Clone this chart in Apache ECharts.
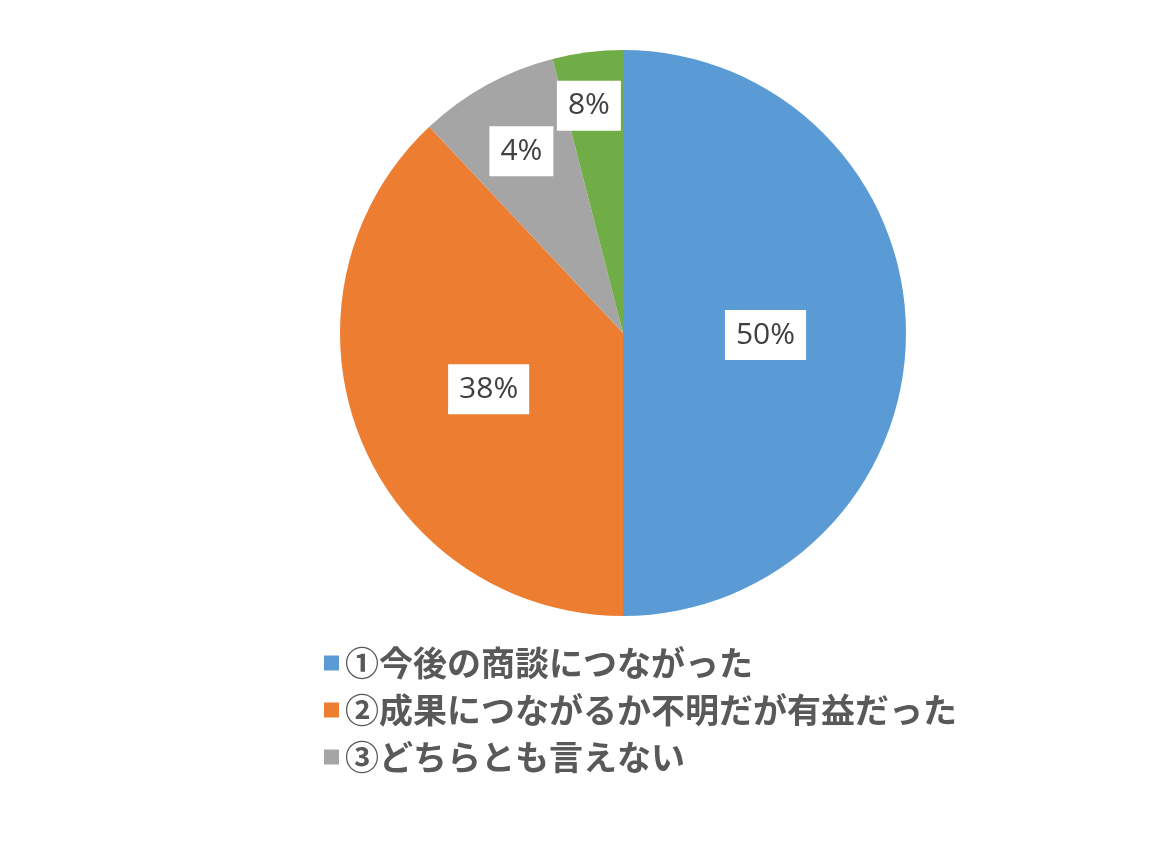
<!DOCTYPE html>
<html>
<head>
<meta charset="utf-8">
<title>pie</title>
<script src="https://cdn.jsdelivr.net/npm/echarts@6/dist/echarts.min.js"></script>
<style>
	html, body {margin: 0; padding: 0; background: #fff;}
	#chart {width: 1176px; height: 844px;}
</style>
</head>
<body>
<div id="chart"></div>
<script>
// data
var names = ['①今後の商談につながった', '②成果につながるか不明だが有益だった', '③どちらとも言えない', '④その他'];
var values = [50, 38, 8, 4];
// the labels as printed on the original (gray and green are swapped there)
var labelTexts = ['50%', '38%', '4%', '8%'];
var colors = ['#5B9BD5', '#ED7D31', '#A5A5A5', '#70AD47'];

var myChart = echarts.init(document.getElementById('chart'));

// label nudges for the small slices (Excel places them further out)
var labelOffsets = [[-2, 2], [0, 3], [-32, -55], [-16, -84]];

var pieData = [];
names.forEach(function(name, i){
	pieData.push({
		name: name,
		value: values[i],
		itemStyle: {color: colors[i]},
		label: {offset: labelOffsets[i]}
	});
});

var option = {
	animation: false,
	legend: {
		orient: 'vertical',
		left: 319,
		top: 641,
		itemWidth: 15,
		itemHeight: 15,
		itemGap: 13,
		icon: 'rect',
		data: names.slice(0, 3),
		textStyle: {
			fontFamily: 'Noto Sans CJK JP',
			fontSize: 34,
			fontWeight: 'bold',
			color: '#595959',
			padding: [0, 0, 0, 1]
		}
	},
	series: [{
		type: 'pie',
		center: [623, 333],
		radius: 283,
		startAngle: 90,
		clockwise: true,
		silent: true,
		itemStyle: {borderWidth: 0},
		label: {
			show: true,
			position: 'inside',
			formatter: function(p){
				return labelTexts[p.dataIndex];
			},
			fontFamily: 'Open Sans',
			fontSize: 30,
			color: '#404040',
			backgroundColor: '#fff',
			padding: [11, 11, 9, 11]
		},
		labelLine: {show: false},
		data: pieData
	}]
};

myChart.setOption(option);
</script>
</body>
</html>
